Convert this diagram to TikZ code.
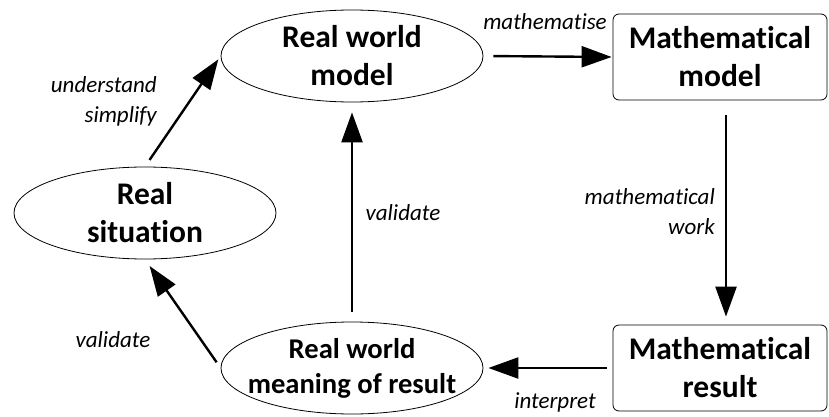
\documentclass[tikz,border=0pt]{standalone}
\usepackage{fontspec}
\setmainfont{Carlito}[Ligatures=NoCommon]
\usetikzlibrary{shapes.geometric,arrows.meta}
\newcommand{\nl}{\kern0pt }
\begin{document}
\begin{tikzpicture}[x=1pt,y=-1pt,
  nodefont/.style={font=\bfseries\fontsize{31.5}{38}\selectfont},
  smallfont/.style={font=\bfseries\fontsize{28.6}{35}\selectfont},
  ell/.style={ellipse,draw,line width=0.8pt,minimum width=262pt,minimum height=92pt,inner sep=0pt},
  elltext/.style={label={[nodefont,align=center]center:#1}},
  elltextsmall/.style={label={[smallfont,align=center]center:#1}},
  rbox/.style={rectangle,rounded corners=6pt,draw,line width=0.8pt,minimum width=214pt,minimum height=86pt,inner sep=0pt,align=center,nodefont},
  arr/.style={line width=2.4pt,-{Triangle[length=30pt,width=21pt]}},
  lab/.style={font=\itshape\fontsize{23}{30}\selectfont,inner sep=0pt}]
\useasboundingbox (0,0) rectangle (829,417);
\node[ell,elltext={Real world\\model}] (rwm) at (352,56) {};
\node[ell,elltext={Real\\situat\nl ion}] (sit) at (145,213) {};
\node[ell,elltextsmall={Real world\\meaning of result}] (rwmr) at (352,368) {};
\node[rbox] (mm) at (720,57) {Mathemat\nl ical\\model};
\node[rbox] (mr) at (720,368) {Mathemat\nl ical\\result};
\draw[arr,shorten <=8pt,shorten >=4pt] (sit.north) -- (rwm.west);
\draw[arr,shorten <=10pt,shorten >=1pt] (rwm.east) -- (mm.west);
\draw[arr,shorten <=15pt,shorten >=8pt] ([xshift=6pt]mm.south) -- ([xshift=6pt]mr.north);
\draw[arr,shorten <=6pt,shorten >=5pt] (mr.west) -- (rwmr.east);
\draw[arr,shorten <=10pt,shorten >=10pt] (rwmr.north) -- (rwm.south);
\draw[arr,shorten <=7pt,shorten >=8pt] (rwmr.west) -- (sit.south);
\node[lab,align=right,anchor=east] (l1) at (157,101) {understand\\simplify};
\node[lab] (l2) at (545,22) {mathemat\nl ise};
\node[lab,align=right,anchor=east] (l3) at (715,212) {mathemat\nl ical\\work};
\node[lab] (l4) at (403,213) {validate};
\node[lab] (l5) at (113,340) {validate};
\node[lab] (l6) at (555,402) {interpret};
\end{tikzpicture}
\end{document}
